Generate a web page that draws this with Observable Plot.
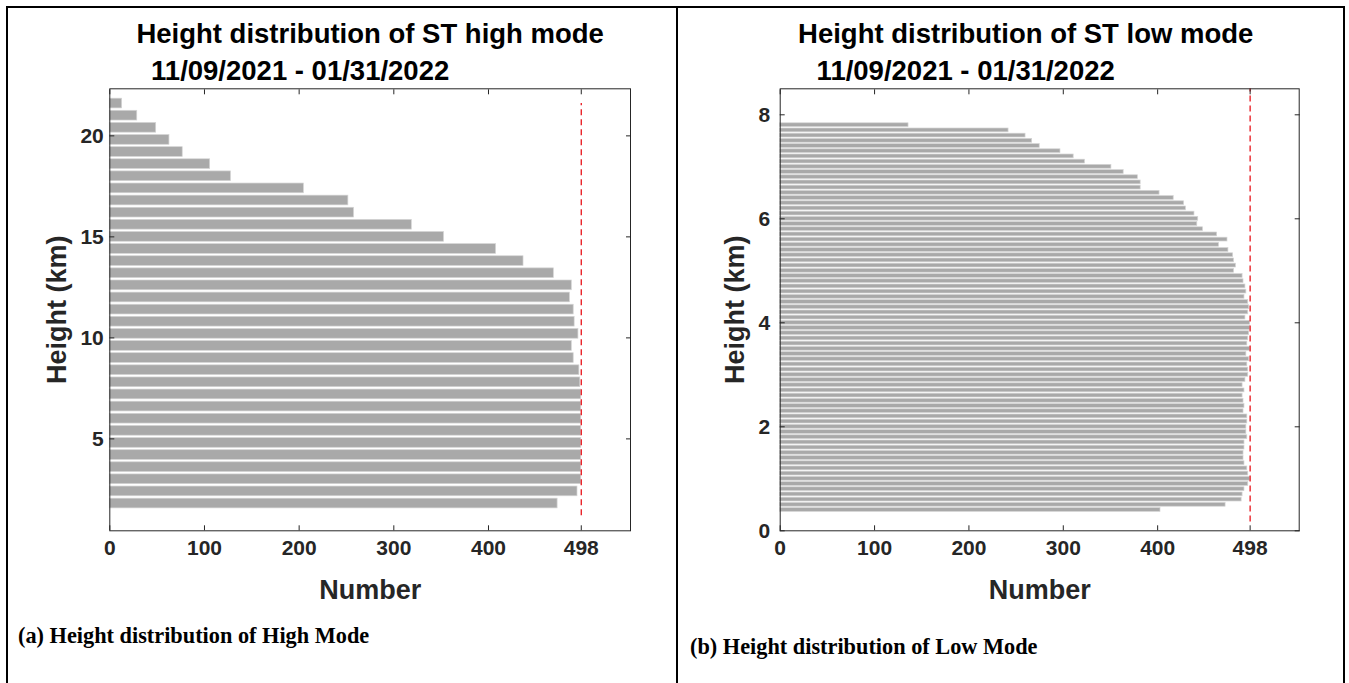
<!DOCTYPE html>
<html>
<head>
<meta charset="utf-8">
<script src="https://cdn.jsdelivr.net/npm/d3@7"></script>
<script src="https://cdn.jsdelivr.net/npm/@observablehq/plot@0.6"></script>
<style>
  body { margin: 0; background: #fff; }
  #wrap { position: relative; width: 1349px; height: 683px; overflow: hidden; background: #fff; }
  .line { position: absolute; background: #000; }
  .panel { position: absolute; top: 0; }
  .cap { position: absolute; font-family: "Liberation Serif", "Times New Roman", serif; font-weight: bold; font-size: 22.3px; color: #000; white-space: nowrap; }
</style>
</head>
<body>
<div id="wrap">
  <div id="left" class="panel" style="left:0px"></div>
  <div id="right" class="panel" style="left:677px"></div>
  <div class="line" style="left:6px;top:6px;width:1339px;height:2px"></div>
  <div class="line" style="left:6px;top:6px;width:2px;height:677px"></div>
  <div class="line" style="left:676px;top:6px;width:2px;height:677px"></div>
  <div class="line" style="left:1343px;top:6px;width:2px;height:677px"></div>
  <div class="cap" style="left:18px;top:623px">(a) Height distribution of High Mode</div>
  <div class="cap" style="left:690px;top:634px">(b) Height distribution of Low Mode</div>
</div>
<script>
// ---- High mode (panel a) ----
const highHeights = [21.6, 21.0, 20.4, 19.8, 19.2, 18.6, 18.0, 17.4, 16.8, 16.2, 15.6, 15.0, 14.4, 13.8, 13.2, 12.6, 12.0,
  11.4, 10.8, 10.2, 9.6, 9.0, 8.4, 7.8, 7.2, 6.6, 6.0, 5.4, 4.8, 4.2, 3.6, 3.0, 2.4, 1.8];
const highCounts = [13, 29, 49, 63, 77, 106, 128, 205, 252, 258, 319, 353, 408, 437, 469, 488, 486,
  490, 491, 495, 488, 490, 496, 497, 498, 498, 498, 498, 498, 498, 498, 498, 494, 473];

// ---- Low mode (panel b) ----
const lowHeights = [7.8, 7.7, 7.6, 7.5, 7.4, 7.3, 7.2, 7.1, 7.0, 6.9, 6.8, 6.7, 6.6, 6.5, 6.4, 6.3, 6.2, 6.1, 6.0,
  5.9, 5.8, 5.7, 5.6, 5.5, 5.4, 5.3, 5.2, 5.1, 5.0, 4.9, 4.8, 4.7, 4.6, 4.5, 4.4, 4.3, 4.2, 4.1, 4.0,
  3.9, 3.8, 3.7, 3.6, 3.5, 3.4, 3.3, 3.2, 3.1, 3.0, 2.9, 2.8, 2.7, 2.6, 2.5, 2.4, 2.3, 2.2, 2.1, 2.0,
  1.9, 1.8, 1.7, 1.6, 1.5, 1.4, 1.3, 1.2, 1.1, 1.0, 0.9, 0.8, 0.7, 0.6, 0.5, 0.4];
const lowCounts = [136, 242, 260, 267, 275, 297, 311, 323, 351, 364, 379, 382, 382, 402, 417, 428, 430, 439, 443,
  442, 448, 463, 474, 465, 475, 480, 481, 483, 481, 490, 491, 493, 494, 492, 496, 497, 496, 493, 498,
  498, 497, 496, 495, 498, 494, 497, 495, 496, 496, 493, 490, 492, 490, 491, 492, 491, 495, 495, 494,
  494, 495, 492, 492, 491, 491, 492, 495, 496, 498, 496, 492, 490, 489, 472, 403];

// ---- axes / reference ----
const xTicks = [0, 100, 200, 300, 400, 498];
const xDomain = [0, 550];
const highYTicks = [5, 10, 15, 20];
const highYDomain = [0.45, 22.33];
const lowYTicks = [0, 2, 4, 6, 8];
const lowYDomain = [0, 8.5];
const refValue = [498];
const highRefSpan = [1.2, 21.6];
const lowRefSpan = [0.17, 8.5];

const titles = ["Height distribution of ST high mode", "Height distribution of ST low mode"];
const subtitle = "11/09/2021 - 01/31/2022";
const xLabel = "Number";
const yLabel = "Height (km)";

const highData = highHeights.map((h, i) => ({h, n: highCounts[i]}));
const lowData = lowHeights.map((h, i) => ({h, n: lowCounts[i]}));

function panel({data, binHalf, inset, yDomain, yTicks, refSpan, title, width, marginLeft, marginRight, yLabelDx, yTickPad, titleDx, subDx}) {
  return Plot.plot({
    width, height: 683,
    marginLeft, marginRight, marginTop: 88.3, marginBottom: 152.7,
    x: {domain: xDomain},
    y: {domain: yDomain},
    style: {fontFamily: "'Liberation Sans', Arial, sans-serif", fontSize: "21px", fontWeight: "bold", color: "#262626", background: "transparent"},
    marks: [
      Plot.rectX(data, {x1: 0, x2: "n", y1: d => d.h - binHalf, y2: d => d.h + binHalf,
        insetTop: inset, insetBottom: inset, fill: "#a9a9a9", stroke: "#d4d4d4", strokeWidth: 0.7}),
      Plot.ruleX(refValue, {x: d => d, y1: refSpan[0], y2: refSpan[1], stroke: "#e8141b", strokeWidth: 1.3, strokeDasharray: "6,4"}),
      Plot.frame({stroke: "#262626", strokeWidth: 1}),
      Plot.axisX({anchor: "bottom", ticks: xTicks, tickSize: -5, tickPadding: 14, tickFormat: d => String(d), label: null}),
      Plot.axisX({anchor: "top", ticks: xTicks, tickSize: -5, fill: "none", label: null}),
      Plot.axisY({anchor: "left", ticks: yTicks, tickSize: -5, tickPadding: yTickPad, tickFormat: d => String(d), label: null}),
      Plot.axisY({anchor: "right", ticks: yTicks, tickSize: -5, fill: "none", label: null}),
      Plot.text([xLabel], {frameAnchor: "bottom", lineAnchor: "middle", dy: 60, fontSize: 27, fontWeight: "bold", fill: "#262626"}),
      Plot.text([yLabel], {frameAnchor: "left", textAnchor: "middle", lineAnchor: "middle", dx: yLabelDx, rotate: -90, fontSize: 27, fontWeight: "bold", fill: "#262626"}),
      Plot.text([title], {frameAnchor: "top", lineAnchor: "middle", dx: titleDx, dy: -55, fontSize: 27.5, fontWeight: "bold", fill: "#000"}),
      Plot.text([subtitle], {frameAnchor: "top", lineAnchor: "middle", dx: subDx, dy: -18, fontSize: 27.5, fontWeight: "bold", fill: "#000"})
    ]
  });
}

document.getElementById("left").append(panel({
  data: highData, binHalf: 0.3, inset: 1.2, yDomain: highYDomain, yTicks: highYTicks, refSpan: highRefSpan,
  title: titles[0], width: 677, marginLeft: 109.3, marginRight: 47, yLabelDx: -52, yTickPad: 11, titleDx: 0, subDx: -70
}));
document.getElementById("right").append(panel({
  data: lowData, binHalf: 0.05, inset: 0.7, yDomain: lowYDomain, yTicks: lowYTicks, refSpan: lowRefSpan,
  title: titles[1], width: 672, marginLeft: 102.7, marginRight: 50.3, yLabelDx: -45, yTickPad: 15, titleDx: -14, subDx: -74
}));
</script>
</body>
</html>
